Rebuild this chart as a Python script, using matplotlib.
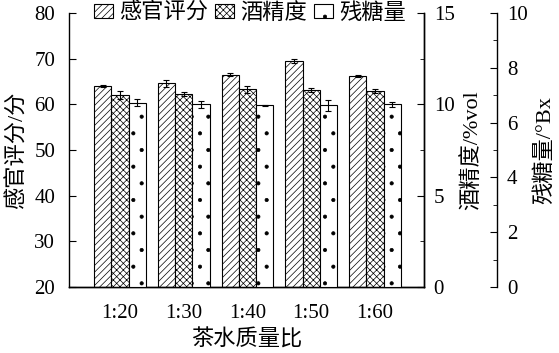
import matplotlib
matplotlib.use("Agg")
import matplotlib.pyplot as plt
import numpy as np

plt.rcParams['font.family'] = ['Liberation Serif', 'Noto Sans CJK SC']
plt.rcParams['font.size'] = 15
plt.rcParams['hatch.linewidth'] = 0.5
plt.rcParams['axes.linewidth'] = 1.0

# 数据
ratios = ['1:20', '1:30', '1:40', '1:50', '1:60']
sensory = [64.1, 64.6, 66.5, 69.5, 66.3]
sensory_err = [0.2, 0.8, 0.3, 0.4, 0.2]
alcohol = [10.5, 10.56, 10.82, 10.78, 10.73]
alcohol_err = [0.22, 0.1, 0.2, 0.1, 0.1]
sugar = [6.73, 6.67, 6.63, 6.63, 6.67]
sugar_err = [0.13, 0.13, 0.02, 0.2, 0.1]

x = np.arange(len(ratios))
w = 0.27
ekw = dict(ecolor='black', elinewidth=0.8, capsize=2.5, capthick=0.8)
cn = 16  # 中文字号

fig = plt.figure(figsize=(5.59, 3.53), dpi=100)
ax1 = fig.add_axes([0.1234, 0.187, 0.6351, 0.776])
ax2 = ax1.twinx()
ax3 = ax1.twinx()

b1 = ax1.bar(x - w, sensory, w, yerr=sensory_err, color='white', edgecolor='black',
             linewidth=0.8, hatch='/////', error_kw=ekw, label='感官评分')
b2 = ax2.bar(x, alcohol, w, yerr=alcohol_err, color='white', edgecolor='black',
             linewidth=0.8, hatch='xxxxx', error_kw=ekw, label='酒精度')
b3 = ax3.bar(x + w, sugar, w, yerr=sugar_err, color='white', edgecolor='black',
             linewidth=0.8, hatch='.', error_kw=ekw, label='残糖量')

ax1.set_xlim(-0.8, 4.77)
ax1.set_ylim(20, 80)
ax1.set_yticks(np.arange(20, 81, 10))
ax2.set_ylim(0, 15)
ax2.set_yticks([0, 5, 10, 15])
ax2.set_yticks(np.arange(0, 15.1, 2.5), minor=True)
ax3.set_ylim(0, 10)
ax3.set_yticks([0, 2, 4, 6, 8, 10])
ax3.set_yticks(np.arange(0, 10.1, 1), minor=True)

ax1.set_xticks(x)
ax1.set_xticklabels(ratios)
ax1.tick_params(axis='x', length=0, pad=12)
ax1.tick_params(axis='y', direction='in', length=5, pad=10)
ax2.tick_params(axis='y', which='major', direction='in', length=5, pad=7)
ax2.tick_params(axis='y', which='minor', direction='in', length=3)
ax3.tick_params(axis='y', which='major', direction='in', length=5, pad=7)
ax3.tick_params(axis='y', which='minor', direction='in', length=3)

for a in (ax1, ax2, ax3):
    a.spines['top'].set_visible(False)
ax3.spines['right'].set_position(('axes', 1.206))
ax3.spines['bottom'].set_visible(False)
ax3.spines['left'].set_visible(False)
ax2.spines['left'].set_visible(False)

ax1.set_xlabel('茶水质量比', fontsize=cn, labelpad=5)
ax1.set_ylabel('感官评分/分', fontsize=cn, labelpad=5)
ax2.set_ylabel('酒精度/%vol', fontsize=cn, rotation=90, labelpad=5)
ax3.set_ylabel('残糖量/°Bx', fontsize=cn, rotation=90, labelpad=5)

ax3.legend(handles=[b1, b2, b3], loc='center left', bbox_to_anchor=(0.07, 1.0),
           ncol=3, frameon=False, borderpad=0, borderaxespad=0, fontsize=cn,
           handlelength=0.85, handleheight=0.6, handletextpad=0.3,
           columnspacing=0.3)

fig.savefig('out.png', dpi=100)
